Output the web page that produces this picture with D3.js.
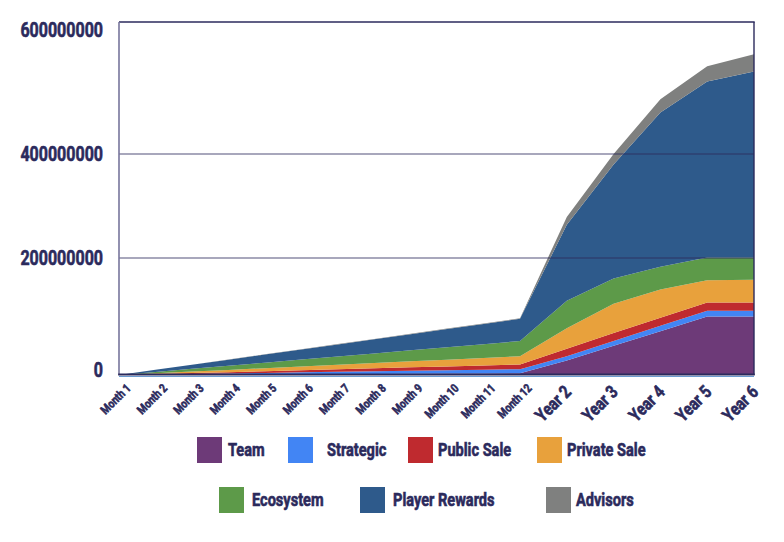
<!DOCTYPE html>
<html>
<head>
<meta charset="utf-8" />
<script src="https://cdn.jsdelivr.net/npm/d3@7"></script>
<style>
  body { margin: 0; background: #fff; }
  text { font-family: "Roboto", "Liberation Sans", sans-serif; font-weight: bold; fill: #2b2a5c;
         stroke: #2b2a5c; stroke-width: 0.6; paint-order: stroke; }
</style>
</head>
<body>
<svg id="chart" width="784" height="542"></svg>
<script>
// values in millions of tokens (cumulative unlocked)
var categories = ["Month 1","Month 2","Month 3","Month 4","Month 5","Month 6","Month 7","Month 8",
                  "Month 9","Month 10","Month 11","Month 12","Year 2","Year 3","Year 4","Year 5","Year 6"];
var team       = [0,0.3,0.5,0.8,1.1,1.4,1.6,1.9,2.2,2.5,2.7,3, 25,50,75,100,100];
var strategic  = [0,0.6,1.3,1.9,2.5,3.2,3.8,4.5,5.1,5.7,6.4,7, 7,8,9,10,10];
var publicSale = [0,0.7,1.5,2.2,2.9,3.6,4.4,5.1,5.8,6.5,7.3,8, 13,14,14,14,14];
var privateSale= [0,1.3,2.5,3.8,5.1,6.4,7.6,8.9,10.2,11.5,12.7,14, 35,50,48,38,39];
var ecosystem  = [0,2.4,4.7,7.1,9.5,11.8,14.2,16.5,18.9,21.3,23.6,26, 47,43,39,39,38];
var playerRewards = [0,3.5,6.9,10.4,13.8,17.3,20.7,24.2,27.6,31.1,34.5,38, 137,215,278,309,324];
var advisors   = [0,0.1,0.2,0.3,0.4,0.5,0.5,0.6,0.7,0.8,0.9,1, 15,20,20,23,26];
var yTicks = [0, 200000000, 400000000, 600000000];

var seriesNames = ["Team","Strategic","Public Sale","Private Sale","Ecosystem","Player Rewards","Advisors"];
var seriesData = [team, strategic, publicSale, privateSale, ecosystem, playerRewards, advisors];
var colors = ["#6d3a78","#4285f4","#bf2a2f","#e8a13c","#5d9a49","#2e5a8b","#7f807f"];

var svg = d3.select("#chart");

var plotL = 119, plotR = 754, plotT = 22, plotB = 375;

// the original axis is not evenly spaced, so both scales are piecewise
var x = d3.scaleLinear().domain([0, 11, 16]).range([plotL, 520, plotR]);
var y = d3.scaleLinear().domain(yTicks).range([plotB, 258, 154, plotT]);

var table = categories.map(function(c, i) {
  var row = { cat: c, i: i };
  seriesNames.forEach(function(n, k) { row[n] = seriesData[k][i] * 1e6; });
  return row;
});

var stack = d3.stack().keys(seriesNames)(table);

var area = d3.area()
  .x(function(d) { return x(d.data.i); })
  .y0(function(d) { return y(d[0]); })
  .y1(function(d) { return y(d[1]); });

svg.append("g").selectAll("path")
  .data(stack)
  .enter().append("path")
  .attr("d", area)
  .attr("fill", function(d, i) { return colors[i]; });

// gridlines on top of the areas
svg.append("g").selectAll("line")
  .data([200000000, 400000000])
  .enter().append("line")
  .attr("x1", plotL).attr("x2", plotR)
  .attr("y1", function(d) { return y(d); })
  .attr("y2", function(d) { return y(d); })
  .attr("stroke", "#2b2a5c").attr("stroke-opacity", 0.55).attr("stroke-width", 1.3);

// frame
svg.append("line").attr("x1", plotL).attr("x2", plotR + 0.7).attr("y1", plotT).attr("y2", plotT)
  .attr("stroke", "#2b2a5c").attr("stroke-width", 1.4);
svg.append("line").attr("x1", plotR).attr("x2", plotR).attr("y1", plotT).attr("y2", plotB)
  .attr("stroke", "#2b2a5c").attr("stroke-width", 1.4);
svg.append("line").attr("x1", plotL).attr("x2", plotL).attr("y1", plotT).attr("y2", plotB)
  .attr("stroke", "#77759c").attr("stroke-width", 1.6);
svg.append("line").attr("x1", plotL).attr("x2", plotR).attr("y1", plotB + 1.5).attr("y2", plotB + 1.5)
  .attr("stroke", "#6b9bd0").attr("stroke-width", 1);
svg.append("line").attr("x1", plotL - 0.8).attr("x2", plotR + 0.7).attr("y1", plotB - 0.5).attr("y2", plotB - 0.5)
  .attr("stroke", "#2b2a5c").attr("stroke-width", 2);

// y axis labels (condensed look via horizontal scale)
var yAxis = d3.axisLeft(y).tickValues(yTicks).tickSize(0).tickPadding(0).tickFormat(d3.format("d"));
var gy = svg.append("g").attr("transform", "translate(" + (plotL - 16) + ",0)").call(yAxis);
gy.select(".domain").remove();
gy.selectAll("text")
  .attr("font-size", 20)
  .attr("fill", "#2b2a5c")
  .attr("font-family", null)
  .attr("x", 0)
  .attr("transform", "scale(0.8,1)")
  .attr("dy", function(d) { return d === 0 ? "0.05em" : d === 600000000 ? "0.72em" : "0.34em"; });

// x axis labels, rotated
var xAxis = d3.axisBottom(x).tickValues(d3.range(categories.length)).tickSize(0)
  .tickFormat(function(i) { return categories[i]; });
var gx = svg.append("g").attr("transform", "translate(0," + (plotB + 6) + ")").call(xAxis);
gx.select(".domain").remove();
gx.selectAll("text")
  .attr("font-family", null)
  .attr("fill", "#2b2a5c")
  .attr("font-size", function(i) { return i < 12 ? 12 : 18; })
  .attr("text-anchor", "end")
  .attr("dy", null)
  .attr("y", 0)
  .attr("transform", function(i) {
    var dx = i < 12 ? 12 : 5;
    var dy = i < 12 ? 8 : 12;
    return "translate(" + dx + "," + dy + ") rotate(-45) scale(0.82,1)";
  });

// legend
var legendPos = [
  { sx: 197, tx: 228, cy: 450 }, { sx: 288, tx: 327, cy: 450 },
  { sx: 408, tx: 438, cy: 450 }, { sx: 537, tx: 567, cy: 450 },
  { sx: 219, tx: 252, cy: 500 }, { sx: 360, tx: 393, cy: 500 },
  { sx: 546, tx: 576, cy: 500 }
];
var lg = svg.append("g").selectAll("g")
  .data(seriesNames)
  .enter().append("g");
lg.append("rect")
  .attr("x", function(d, i) { return legendPos[i].sx; })
  .attr("y", function(d, i) { return legendPos[i].cy - 13; })
  .attr("width", 25).attr("height", 26)
  .attr("fill", function(d, i) { return colors[i]; });
lg.append("text")
  .attr("transform", function(d, i) { return "translate(" + legendPos[i].tx + "," + legendPos[i].cy + ") scale(0.81,1)"; })
  .attr("dy", "0.36em")
  .attr("font-size", 18)
  .text(function(d) { return d; });
</script>
</body>
</html>
